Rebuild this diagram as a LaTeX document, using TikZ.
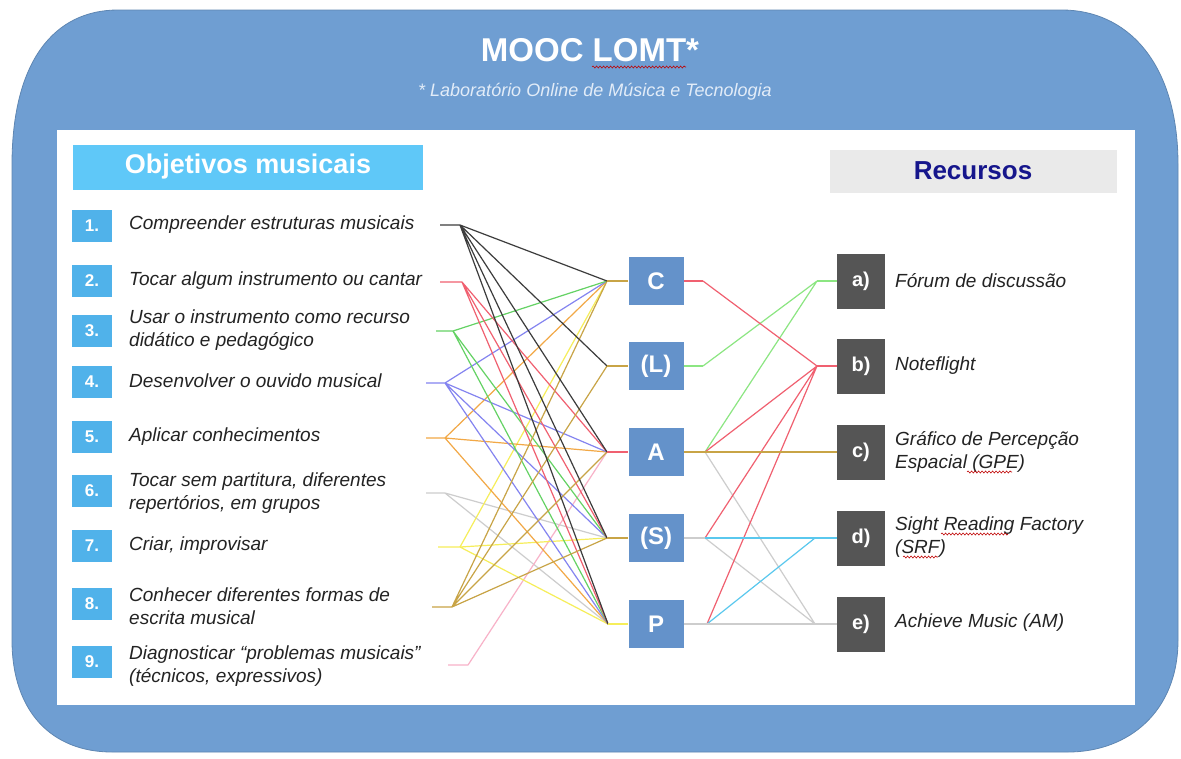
\documentclass[tikz,border=0pt]{standalone}
\usepackage{fontspec}
\setmainfont{Liberation Sans}
\usepackage{xcolor}
\usetikzlibrary{decorations.pathmorphing}

\definecolor{frameblue}{RGB}{111,158,210}
\definecolor{headblue}{RGB}{95,200,248}
\definecolor{numblue}{RGB}{80,178,234}
\definecolor{classblue}{RGB}{100,146,202}
\definecolor{resgray}{RGB}{85,85,85}
\definecolor{headgray}{RGB}{234,234,234}
\definecolor{navy}{RGB}{22,22,140}
\definecolor{textgray}{RGB}{35,35,35}
\definecolor{subwhite}{RGB}{226,236,248}
\definecolor{wireblack}{RGB}{60,60,60}
\definecolor{wirered}{RGB}{240,96,112}
\definecolor{wiregreen}{RGB}{100,210,100}
\definecolor{wireblue}{RGB}{132,132,240}
\definecolor{wireorange}{RGB}{242,168,70}
\definecolor{wiregray}{RGB}{205,205,205}
\definecolor{wireyellow}{RGB}{246,238,90}
\definecolor{wiretan}{RGB}{200,164,70}
\definecolor{wirepink}{RGB}{248,178,200}
\definecolor{wirecyan}{RGB}{90,200,238}
\definecolor{wirelime}{RGB}{140,230,130}

\begin{document}
\begin{tikzpicture}[x=1pt,y=-1pt]
\tikzset{
  numbox/.style={fill=numblue, text=white, font=\fontsize{17}{17}\selectfont\bfseries, minimum width=40pt, minimum height=32pt, inner sep=0pt},
  goaltext/.style={anchor=west, align=left, text=textgray, font=\fontsize{19}{22.5}\selectfont\itshape, inner sep=0pt},
  classbox/.style={fill=classblue, text=white, font=\fontsize{24}{24}\selectfont\bfseries, minimum width=55pt, minimum height=48pt, inner sep=0pt},
  resbox/.style={fill=resgray, text=white, font=\fontsize{20}{20}\selectfont\bfseries, minimum width=48pt, minimum height=55pt, inner sep=0pt},
  wire/.style={line width=1.2pt, line join=round},
  spellmark/.style={draw=red!75!black, line width=0.6pt, decorate, decoration={snake, amplitude=1pt, segment length=3.5pt}}
}
\useasboundingbox (0,0) rectangle (1181,758);
\fill[white] (0,0) rectangle (1181,758);

\filldraw[fill=frameblue, draw=frameblue!85!black, line width=0.8pt]
  (12,165) .. controls (12,60) and (55,10) .. (118,10) -- (1062,10)
  .. controls (1125,10) and (1178,60) .. (1178,165) -- (1178,640)
  .. controls (1178,712) and (1128,752) .. (1068,752) -- (112,752)
  .. controls (52,752) and (12,712) .. (12,640) -- cycle;
\fill[white] (57,130) rectangle (1135,705);

\node[text=white, font=\fontsize{33}{36}\selectfont\bfseries] (title) at (590,50) {MOOC LOMT*};
\node[text=subwhite, font=\fontsize{18}{20}\selectfont\itshape] (subtitle) at (595,92) {* Laborat\'orio Online de M\'usica e Tecnologia};

\node[fill=headblue, text=white, minimum width=350pt, minimum height=45pt, inner sep=0pt, font=\fontsize{27}{27}\selectfont\bfseries] (objhead) at (248,167) {Objetivos musicais};
\node[fill=headgray, text=navy, minimum width=287pt, minimum height=43pt, inner sep=0pt, font=\fontsize{26}{26}\selectfont\bfseries] (reshead) at (973,171) {Recursos};

\coordinate (s1) at (440,225); \coordinate (b1) at (460,225);
\coordinate (s2) at (440,282); \coordinate (b2) at (462,282);
\coordinate (s3) at (436,331); \coordinate (b3) at (453,331);
\coordinate (s4) at (426,383); \coordinate (b4) at (445,383);
\coordinate (s5) at (426,438); \coordinate (b5) at (445,438);
\coordinate (s6) at (426,493); \coordinate (b6) at (445,493);
\coordinate (s7) at (438,547); \coordinate (b7) at (460,547);
\coordinate (s8) at (432,607); \coordinate (b8) at (452,607);
\coordinate (s9) at (448,665); \coordinate (b9) at (468,665);

\coordinate (jC) at (607,281); \coordinate (kC) at (703,281);
\coordinate (jL) at (607,366); \coordinate (kL) at (703,366);
\coordinate (jA) at (607,452); \coordinate (kA) at (705,452);
\coordinate (jS) at (607,538); \coordinate (kS) at (705,538);
\coordinate (jP) at (608,624); \coordinate (kP) at (707,624);

\coordinate (qa) at (817,281);
\coordinate (qb) at (817,366);
\coordinate (qd) at (815,538);
\coordinate (qe) at (815,624);

\draw[wire, wiregray] (s6) -- (b6) -- (jS) (b6) -- (jP);
\draw[wire, wirepink] (s9) -- (b9) -- (jA);
\draw[wire, wireyellow] (s7) -- (b7) -- (jC) (b7) -- (jS) (b7) -- (jP);
\draw[wire, wireorange] (s5) -- (b5) -- (jC) (b5) -- (jA) (b5) -- (jP);
\draw[wire, wireblue] (s4) -- (b4) -- (jC) (b4) -- (jA) (b4) -- (jS) (b4) -- (jP);
\draw[wire, wiregreen] (s3) -- (b3) -- (jC) (b3) -- (jS) (b3) -- (jP);
\draw[wire, wirered] (s2) -- (b2) -- (jA) (b2) -- (jS) (b2) -- (jP);
\draw[wire, wiretan] (s8) -- (b8) -- (jC) (b8) -- (jL) (b8) -- (jA) (b8) -- (jS);
\draw[wire, wireblack] (s1) -- (b1) -- (jC) (b1) -- (jL) (b1) -- (jA) (b1) -- (jS) (b1) -- (jP);

\draw[wire, wiregray] (kA) -- (qe) (kS) -- (qe);
\draw[wire, wirelime] (kL) -- (qa) (kA) -- (qa);
\draw[wire, wirered] (kC) -- (qb) (kA) -- (qb) (kS) -- (qb) (kP) -- (qb);
\draw[wire, wirecyan] (kP) -- (qd);

\node[numbox] (n1) at (92,226) {1.};
\node[numbox] (n2) at (92,281) {2.};
\node[numbox] (n3) at (92,331) {3.};
\node[numbox] (n4) at (92,382) {4.};
\node[numbox] (n5) at (92,437) {5.};
\node[numbox] (n6) at (92,491) {6.};
\node[numbox] (n7) at (92,546) {7.};
\node[numbox] (n8) at (92,604) {8.};
\node[numbox] (n9) at (92,662) {9.};

\node[goaltext] (t1) at (129,225) {Compreender estruturas musicais};
\node[goaltext] (t2) at (129,281) {Tocar algum instrumento ou cantar};
\node[goaltext] (t3) at (129,330) {Usar o instrumento como recurso\\did\'atico e pedag\'ogico};
\node[goaltext] (t4) at (129,381) {Desenvolver o ouvido musical};
\node[goaltext] (t5) at (129,437) {Aplicar conhecimentos};
\node[goaltext] (t6) at (129,493) {Tocar sem partitura, diferentes\\repert\'orios, em grupos};
\node[goaltext] (t7) at (129,546) {Criar, improvisar};
\node[goaltext] (t8) at (129,606) {Conhecer diferentes formas de\\escrita musical};
\node[goaltext] (t9) at (129,666) {Diagnosticar \textquotedblleft problemas musicais\textquotedblright\\(t\'ecnicos, expressivos)};

\node[classbox] (C) at (656,281) {C};
\node[classbox] (L) at (656,366) {(L)};
\node[classbox] (A) at (656,452) {A};
\node[classbox] (S) at (656,538) {(S)};
\node[classbox] (P) at (656,624) {P};

\draw[wire, wiretan] (jC) -- (C.west);
\draw[wire, wiretan] (jL) -- (L.west);
\draw[wire, wirered] (jA) -- (A.west);
\draw[wire, wiretan] (jS) -- (S.west);
\draw[wire, wireyellow] (jP) -- (P.west);

\node[resbox] (ra) at (861,281) {a)};
\node[resbox] (rb) at (861,366) {b)};
\node[resbox] (rc) at (861,452) {c)};
\node[resbox] (rd) at (861,538) {d)};
\node[resbox] (re) at (861,624) {e)};

\draw[wire, wirered] (C.east) -- (kC);
\draw[wire, wirelime] (L.east) -- (kL);
\draw[wire, wiretan] (A.east) -- (kA) -- (rc.west);
\draw[wire, wiregray] (S.east) -- (kS);
\draw[wire, wirecyan] (kS) -- (rd.west);
\draw[wire, wiregray] (P.east) -- (kP) -- (re.west);
\draw[wire, wirelime] (qa) -- (ra.west);
\draw[wire, wirered] (qb) -- (rb.west);
\draw[wire, wirecyan] (qd) -- (rd.west);
\draw[wire, wiregray] (qe) -- (re.west);

\node[goaltext] (ta) at (895,281) {F\'orum de discuss\~ao};
\node[goaltext] (tb) at (895,366) {Noteflight};
\node[goaltext] (tc) at (895,452) {Gr\'afico de Percep\c{c}\~ao\\Espacial (GPE)};
\node[goaltext] (td) at (895,537) {Sight Reading Factory\\(SRF)};
\node[goaltext] (te) at (895,623) {Achieve Music (AM)};

\draw[spellmark] (592,67) -- (686,67);
\draw[spellmark] (941,534) -- (1008,534);
\draw[spellmark] (903,557) -- (938,557);
\draw[spellmark] (967,472) -- (1012,472);
\end{tikzpicture}
\end{document}
